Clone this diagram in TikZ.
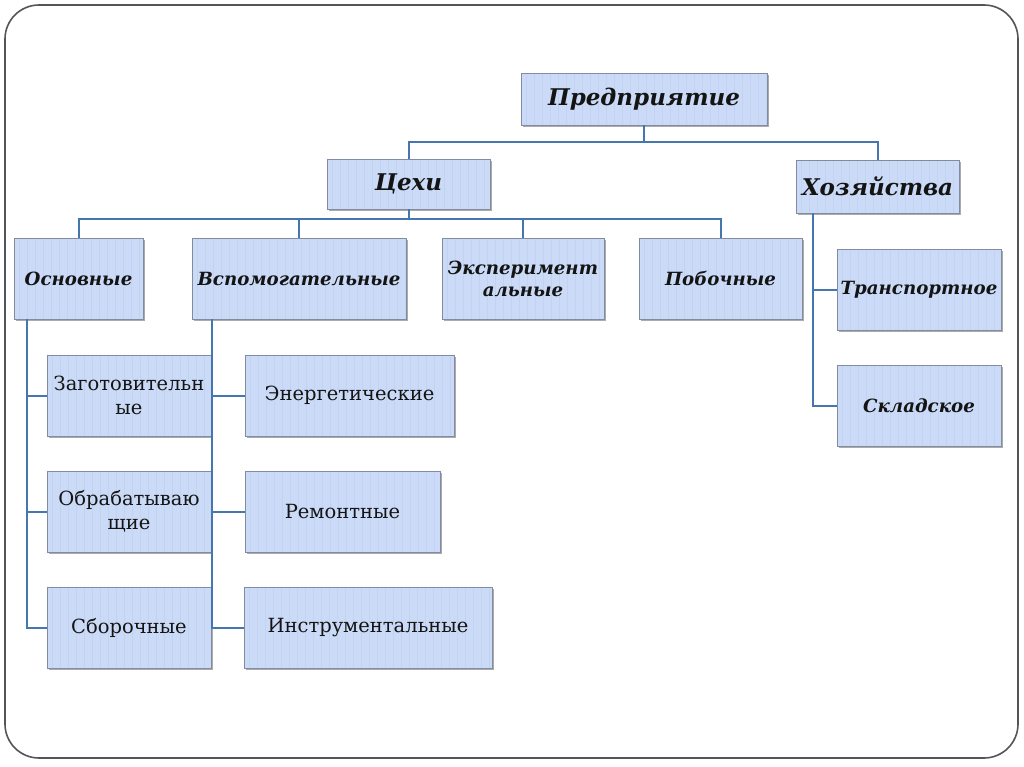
\documentclass[tikz,border=0pt]{standalone}
\usepackage{fontspec}
\setmainfont{DejaVu Serif}
\usetikzlibrary{shadows}
\usetikzlibrary{calc}
\definecolor{boxfill}{RGB}{203,219,247}
\definecolor{boxstripe}{RGB}{194,211,242}
\definecolor{boxline}{RGB}{130,140,160}
\definecolor{linkblue}{RGB}{70,118,175}
\definecolor{framegray}{RGB}{85,85,85}
\tikzset{
	box/.style={draw=boxline, fill=boxfill, line width=0.9pt, inner sep=2pt,
		align=center, text=black!92,
		drop shadow={shadow xshift=1.5pt, shadow yshift=-2.2pt, fill=black!65, opacity=0.5},
		path picture={\foreach \i in {5,13,...,260} \draw[boxstripe, line width=0.9pt] ([xshift=\i]path picture bounding box.south west) -- ([xshift=\i]path picture bounding box.north west);}},
	bigbox/.style={box, font=\fontsize{23}{27}\selectfont\bfseries\itshape},
	midbox/.style={box, font=\fontsize{18.2}{22}\selectfont\bfseries\itshape},
	plainbox/.style={box, font=\fontsize{19.5}{24}\selectfont},
	link/.style={draw=linkblue, line width=2pt}
}

\begin{document}
\begin{tikzpicture}[x=1pt, y=-1pt]
	\useasboundingbox (0,0) rectangle (1024,767);
	\fill[white] (0,0) rectangle (1024,767);
	\draw[framegray, line width=1.6pt, rounded corners=34pt] (5,5) rectangle (1018,758);

	% top levels
	\node [bigbox, minimum width=246pt, minimum height=52pt] (pred) at (644, 99) {Предприятие};
	\node [bigbox, minimum width=163pt, minimum height=50pt] (cehi) at (408.5, 184) {Цехи};
	\node [bigbox, minimum width=163pt, minimum height=53pt] (hoz) at (877.5, 186.5) {Хозяйства};

	% shops
	\node [midbox, minimum width=129pt, minimum height=81pt] (osn) at (78.5, 278.5) {Основные};
	\node [midbox, minimum width=214pt, minimum height=81pt] (vsp) at (299, 278.5) {Вспомогательные};
	\node [midbox, minimum width=162pt, minimum height=81pt] (exp) at (523, 278.5) {Эксперимент\\альные};
	\node [midbox, minimum width=163pt, minimum height=81pt] (pob) at (720.5, 278.5) {Побочные};

	% facilities
	\node [midbox, minimum width=164pt, minimum height=81pt] (tra) at (919, 289.5) {Транспортное};
	\node [midbox, minimum width=164pt, minimum height=81pt] (skl) at (919, 405.5) {Складское};

	% main shops
	\node [plainbox, minimum width=164pt, minimum height=81pt] (zag) at (129, 395.5) {Заготовительн\\ые};
	\node [plainbox, minimum width=164pt, minimum height=81pt] (obr) at (129, 511.5) {Обрабатываю\\щие};
	\node [plainbox, minimum width=164pt, minimum height=81pt] (sbo) at (129, 627.5) {Сборочные};

	% auxiliary shops
	\node [plainbox, minimum width=209pt, minimum height=81pt] (ene) at (349.5, 395.5) {Энергетические};
	\node [plainbox, minimum width=195pt, minimum height=81pt] (rem) at (342.5, 511.5) {Ремонтные};
	\node [plainbox, minimum width=248pt, minimum height=81pt] (ins) at (368, 627.5) {Инструментальные};

	% connectors
	\draw[link] (pred.south) -- ++(0,17) -| (cehi.north);
	\draw[link] (pred.south) -- ++(0,17) -| (hoz.north);
	\foreach \n in {osn,vsp,exp,pob}
		\draw[link] (cehi.south) -- ++(0,10) -| (\n.north);
	\foreach \n in {zag,obr,sbo}
		\draw[link] ([xshift=13pt]osn.south west) |- (\n.west);
	\foreach \n in {ene,rem,ins}
		\draw[link] ([xshift=20pt]vsp.south west) |- (\n.west);
	\foreach \n in {tra,skl}
		\draw[link] ([xshift=17pt]hoz.south west) |- (\n.west);
\end{tikzpicture}
\end{document}
